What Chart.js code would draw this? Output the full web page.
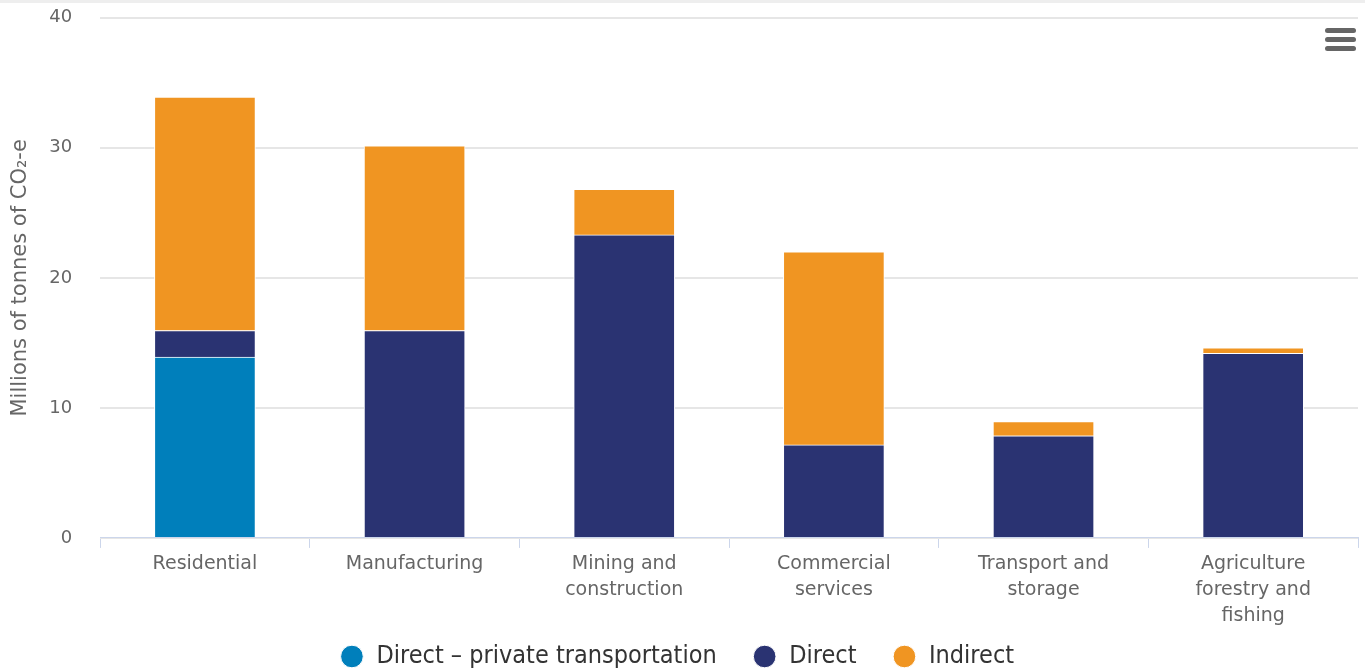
<!DOCTYPE html>
<html>
<head>
<meta charset="utf-8">
<script src="https://cdn.jsdelivr.net/npm/chart.js@4"></script>
<style>
  html, body { margin: 0; padding: 0; background: #fff; }
  #wrap { position: relative; width: 1365px; height: 671px; border-top: 3px solid #eeeeee; box-sizing: border-box; }
  #menu { position: absolute; right: 9px; top: 25px; width: 31px; }
  #menu div { height: 5px; background: #666; border-radius: 3px; margin-bottom: 4px; }
</style>
</head>
<body>
<div id="wrap">
  <canvas id="myChart" width="1365" height="668"></canvas>
  <div id="menu"><div></div><div></div><div></div></div>
</div>
<script>
const labels = [
    'Residential',
    'Manufacturing',
    ['Mining and', 'construction'],
    ['Commercial', 'services'],
    ['Transport and', 'storage'],
    ['Agriculture', 'forestry and', 'fishing'],
];
const privateTransport = [13.9, null, null, null, null, null];
const direct = [2.05, 15.95, 23.3, 7.15, 7.85, 14.2];
const indirect = [17.95, 14.2, 3.5, 14.85, 1.1, 0.42];
const yTicks = [0, 10, 20, 30, 40];

const ctx = document.querySelector('#myChart').getContext('2d');

// the legend sits partly over the space below the x labels, like the original
const legendShift = 24;
const legendSqueeze = {
    id: 'legendSqueeze',
    beforeInit(chart) {
        const legend = chart.legend;
        const fit = legend.fit;
        legend.fit = function () {
            fit.call(this);
            this.height -= legendShift;
        };
        const draw = legend.draw;
        legend.draw = function () {
            this.top -= legendShift;
            draw.apply(this, arguments);
            this.top += legendShift;
        };
    }
};

const barStyle = {
    borderColor: '#ffffff',
    borderWidth: 1,
    barThickness: 101,
};

const data = {
    labels,
    datasets: [{
        label: 'Direct – private transportation',
        data: privateTransport,
        backgroundColor: '#007fbb',
        ...barStyle,
    }, {
        label: 'Direct',
        data: direct,
        backgroundColor: '#2a3372',
        ...barStyle,
    }, {
        label: 'Indirect',
        data: indirect,
        backgroundColor: '#f09522',
        ...barStyle,
    }]
};

const config = {
    type: 'bar',
    data: data,
    plugins: [legendSqueeze],
    options: {
        responsive: false,
        animation: false,
        layout: { padding: { top: -7, right: 7, left: -4, bottom: -8 } },
        plugins: {
            tooltip: { enabled: false },
            legend: {
                position: 'bottom',
                labels: {
                    usePointStyle: true,
                    pointStyle: 'circle',
                    boxWidth: 24,
                    boxHeight: 16,
                    padding: 36,
                    color: '#333333',
                    font: { family: 'DejaVu Sans Condensed', size: 25 },
                }
            }
        },
        scales: {
            x: {
                stacked: true,
                border: { color: '#ccd6eb', width: 1 },
                grid: {
                    offset: true,
                    drawOnChartArea: false,
                    color: '#ccd6eb',
                    tickLength: 10,
                },
                ticks: {
                    color: '#666666',
                    font: { family: 'DejaVu Sans', size: 19, lineHeight: 1.37 },
                    maxRotation: 0,
                    autoSkip: false,
                    padding: 3,
                }
            },
            y: {
                stacked: true,
                min: 0,
                max: 40,
                afterBuildTicks: (axis) => {
                    axis.ticks = yTicks.map(v => ({ value: v }));
                },
                border: { display: false },
                grid: {
                    color: '#e6e6e6',
                    lineWidth: 2,
                    tickLength: 24,
                    tickColor: 'rgba(0,0,0,0)',
                },
                ticks: {
                    color: '#666666',
                    font: { family: 'DejaVu Sans', size: 18 },
                    padding: 4,
                },
                title: {
                    display: true,
                    text: 'Millions of tonnes of CO₂-e',
                    color: '#666666',
                    font: { family: 'DejaVu Sans', size: 21 },
                    padding: { top: 12, bottom: 12 },
                }
            }
        },
    }
};
const myChart = new Chart(ctx, config);
</script>
</body>
</html>
